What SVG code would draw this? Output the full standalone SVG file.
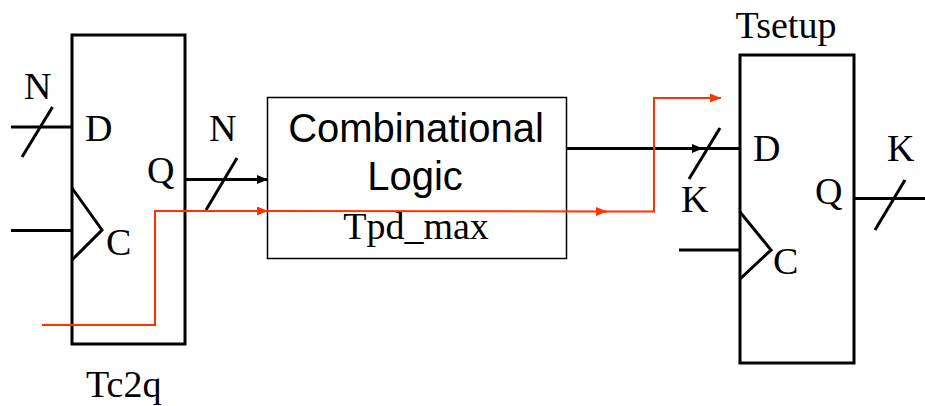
<svg xmlns="http://www.w3.org/2000/svg" width="925" height="406" viewBox="0 0 925 406">
<style>
.ff{fill:none;stroke:#000;stroke-width:3}
.w{fill:none;stroke:#000;stroke-width:3}
.box{fill:none;stroke:#000;stroke-width:1.5}
.red{fill:none;stroke:#FF3300;stroke-width:2}
.t{font-family:"Liberation Serif","Times New Roman",serif;font-size:38px;fill:#000}
.s{font-family:"Liberation Sans",Arial,sans-serif;font-size:40px;fill:#000}
</style>
<defs>
<marker id="ab" markerUnits="userSpaceOnUse" markerWidth="12" markerHeight="10" refX="11" refY="4.5" orient="auto">
<path d="M0,0 L11,4.5 L0,9 z" fill="#000"/>
</marker>
<marker id="ar" markerUnits="userSpaceOnUse" markerWidth="12" markerHeight="10" refX="11" refY="4.5" orient="auto">
<path d="M0,0 L11,4.5 L0,9 z" fill="#FF3300"/>
</marker>
</defs>
<rect width="925" height="406" fill="#fff"/>

<g id="ff1">
<rect class="ff" x="72" y="35" width="113" height="309"/>
<polyline class="ff" points="72,188 102,230 72,260"/>
<text class="t" x="85" y="141">D</text>
<text class="t" x="147" y="183">Q</text>
<text class="t" x="106" y="255">C</text>
<text class="t" x="86" y="397">Tc2q</text>
</g>

<g id="comb">
<rect class="box" x="267.5" y="97.5" width="299" height="161"/>
<text class="s" x="416" y="142" text-anchor="middle">Combinational</text>
<text class="s" x="415" y="190" text-anchor="middle">Logic</text>
<text class="t" x="416" y="239" text-anchor="middle">Tpd_max</text>
</g>

<g id="ff2">
<rect class="ff" x="740" y="55" width="114" height="308"/>
<polyline class="ff" points="740,212 771,250 740,279"/>
<text class="t" x="753" y="161">D</text>
<text class="t" x="815" y="204">Q</text>
<text class="t" x="773" y="274">C</text>
<text class="t" x="786" y="38" text-anchor="middle">Tsetup</text>
</g>

<g id="connectors">
<!-- left FF D input -->
<line class="w" x1="11" y1="127" x2="72" y2="127"/>
<line class="w" x1="22" y1="157" x2="52.5" y2="107"/>
<text class="t" x="24" y="99">N</text>
<!-- left FF clock -->
<line class="w" x1="11" y1="230.5" x2="72" y2="230.5"/>
<!-- Q to comb -->
<line class="w" x1="185" y1="179.5" x2="268" y2="179.5" marker-end="url(#ab)"/>
<line class="w" x1="206" y1="210" x2="237" y2="158"/>
<text class="t" x="209" y="141">N</text>
<!-- comb to right D -->
<line class="w" x1="567" y1="148.5" x2="703" y2="148.5" marker-end="url(#ab)"/>
<line class="w" x1="700" y1="148.5" x2="740" y2="148.5"/>
<line class="w" x1="689" y1="179" x2="720" y2="128"/>
<text class="t" x="681" y="212">K</text>
<!-- right clock -->
<line class="w" x1="679" y1="250" x2="740" y2="250"/>
<!-- right Q output -->
<line class="w" x1="854" y1="198.5" x2="925" y2="198.5"/>
<line class="w" x1="875" y1="230" x2="905" y2="180"/>
<text class="t" x="887" y="161">K</text>
<!-- red timing path -->
<polyline class="red" points="42,325 155,325 155,211 268,211" marker-end="url(#ar)"/>
<line class="red" x1="265" y1="211" x2="607" y2="211.5" marker-end="url(#ar)"/>
<polyline class="red" points="604,211.5 654,211.5 654,98 721,98" marker-end="url(#ar)"/>
</g>
</svg>
